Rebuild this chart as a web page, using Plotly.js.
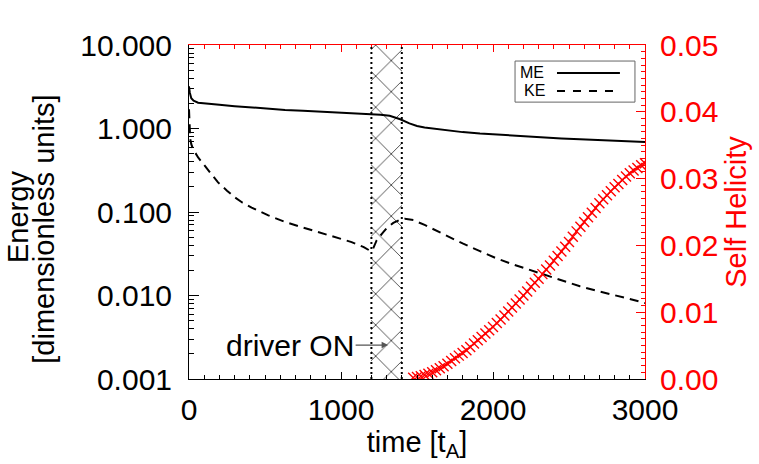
<!DOCTYPE html>
<html>
<head>
<meta charset="utf-8">
<script src="https://cdn.plot.ly/plotly-3.0.1.min.js"></script>
<style>
  body { margin: 0; background: #fff; }
  #plot { width: 759px; height: 464px; }
</style>
</head>
<body>
<div id="plot"></div>
<script>
// time axis [t_A]
var meTime = [0, 5, 15, 30, 60, 120, 200, 300, 400, 500, 632, 750, 851, 950, 1070, 1200, 1260, 1320, 1390, 1450, 1476, 1500, 1550, 1600, 1700, 1800, 1914, 2000, 2132, 2250, 2353, 2450, 2572, 2700, 2790, 2900, 3000];
var meValues = [3.2, 2.7, 2.3, 2.15, 2.04, 1.98, 1.92, 1.85, 1.79, 1.73, 1.67, 1.63, 1.60, 1.56, 1.53, 1.49, 1.46, 1.42, 1.29, 1.15, 1.11, 1.07, 1.03, 1.00, 0.945, 0.905, 0.87, 0.85, 0.82, 0.80, 0.78, 0.76, 0.745, 0.725, 0.71, 0.70, 0.69];

var keTime = [0, 3, 8, 15, 26, 60, 105, 150, 191, 250, 303, 350, 412, 522, 632, 740, 851, 960, 1070, 1150, 1195, 1210, 1235, 1270, 1300, 1344, 1388, 1420, 1476, 1550, 1695, 1800, 1914, 2020, 2133, 2250, 2353, 2460, 2572, 2680, 2792, 2900, 3000];
var keValues = [1.7, 1.0, 0.75, 0.65, 0.57, 0.45, 0.358, 0.28, 0.226, 0.18, 0.149, 0.13, 0.113, 0.091, 0.076, 0.066, 0.0575, 0.050, 0.0436, 0.038, 0.034, 0.036, 0.046, 0.055, 0.064, 0.074, 0.081, 0.083, 0.080, 0.070, 0.0515, 0.042, 0.034, 0.028, 0.0235, 0.020, 0.0177, 0.015, 0.0129, 0.0114, 0.0102, 0.0091, 0.0081];

var helTime = [1475, 1500, 1525, 1550, 1575, 1600, 1625, 1650, 1675, 1700, 1725, 1750, 1775, 1800, 1825, 1850, 1875, 1900, 1925, 1950, 1975, 2000, 2025, 2050, 2075, 2100, 2125, 2150, 2175, 2200, 2225, 2250, 2275, 2300, 2325, 2350, 2375, 2400, 2425, 2450, 2475, 2500, 2525, 2550, 2575, 2600, 2625, 2650, 2675, 2700, 2725, 2750, 2775, 2800, 2825, 2850, 2875, 2900, 2925, 2950, 2975, 3000];
var helValues = [0.0002, 0.0003, 0.0004, 0.0006, 0.0008, 0.0010, 0.0013, 0.0016, 0.0019, 0.0023, 0.0027, 0.0031, 0.0035, 0.0039, 0.0043, 0.0048, 0.0053, 0.0058, 0.0063, 0.0068, 0.0073, 0.0078, 0.0084, 0.0089, 0.0095, 0.0101, 0.0107, 0.0113, 0.0119, 0.0125, 0.0131, 0.0138, 0.0144, 0.0150, 0.0157, 0.0164, 0.0170, 0.0177, 0.0184, 0.0191, 0.0198, 0.0205, 0.0213, 0.0221, 0.0228, 0.0235, 0.0242, 0.0249, 0.0256, 0.0263, 0.0269, 0.0275, 0.0281, 0.0287, 0.0292, 0.0298, 0.0303, 0.0308, 0.0312, 0.0316, 0.0320, 0.0323];

// driver switched on between these times
var driverStart = 1200;
var driverEnd = 1400;

var FONT = 'Liberation Sans, Arial, Helvetica, sans-serif';

var hatch = {
    x: [(driverStart + driverEnd) / 2],
    y: [20],
    base: [0.001],
    width: [driverEnd - driverStart],
    type: 'bar',
    xaxis: 'x', yaxis: 'y',
    marker: {
        color: '#444',
        line: { width: 0 },
        pattern: { shape: 'x', size: 22, solidity: 0.08 }
    },
    hoverinfo: 'skip',
    showlegend: false
};

var me = {
    x: meTime, y: meValues,
    mode: 'lines', type: 'scatter', name: 'ME',
    line: { color: 'black', width: 2 },
    showlegend: false
};

var ke = {
    x: keTime, y: keValues,
    mode: 'lines', type: 'scatter', name: 'KE',
    line: { color: 'black', width: 2, dash: '9px,6px' },
    showlegend: false
};

var hel = {
    x: helTime, y: helValues,
    xaxis: 'x2', yaxis: 'y2',
    mode: 'markers', type: 'scatter', name: 'Self Helicity',
    marker: { symbol: 'x-thin-open', size: 10, color: 'red', line: { color: 'red', width: 1.4 } },
    showlegend: false
};

var layout = {
    width: 759, height: 464,
    margin: { l: 189, r: 114, t: 45, b: 85 },
    paper_bgcolor: 'white', plot_bgcolor: 'white',
    font: { family: FONT, size: 30, color: 'black' },
    showlegend: false,
    bargap: 0,
    xaxis: {
        range: [0, 3000], dtick: 1000,
        showline: true, linecolor: 'black', linewidth: 1,
        ticks: 'inside', ticklen: 7, tickcolor: 'black',
        minor: { dtick: 100, ticks: 'inside', ticklen: 4, tickcolor: 'black' },
        showgrid: false, zeroline: false,
        ticklabelstandoff: 4,
        title: { text: 'time [t<sub>A</sub>]', font: { size: 29 }, standoff: 5 }
    },
    yaxis: {
        type: 'log', range: [-3, 1], dtick: 1, tickformat: '.3f',
        showline: true, linecolor: 'black', linewidth: 1,
        ticks: 'inside', ticklen: 10, tickcolor: 'black',
        minor: { dtick: 'D1', ticks: 'inside', ticklen: 5, tickcolor: 'black' },
        showgrid: false, zeroline: false,
        ticklabelstandoff: 10
    },
    xaxis2: {
        overlaying: 'x', side: 'top', anchor: 'y',
        range: [0, 3000], dtick: 1000,
        showline: true, linecolor: 'red', linewidth: 1,
        ticks: 'inside', ticklen: 7, tickcolor: 'red',
        minor: { dtick: 100, ticks: 'inside', ticklen: 4, tickcolor: 'red' },
        showticklabels: false, showgrid: false, zeroline: false
    },
    yaxis2: {
        overlaying: 'y', side: 'right', anchor: 'x',
        range: [0, 0.05], dtick: 0.01, tickformat: '.2f',
        color: 'red',
        showline: true, linecolor: 'red', linewidth: 1,
        ticks: 'inside', ticklen: 9, tickcolor: 'red',
        minor: { dtick: 0.001, ticks: 'inside', ticklen: 4, tickcolor: 'red' },
        showgrid: false, zeroline: false,
        ticklabelstandoff: 8,
        tickfont: { color: 'red' },
        title: { text: 'Self Helicity', font: { size: 29, color: 'red' }, standoff: 8 }
    },
    shapes: [
        { type: 'line', xref: 'x', yref: 'paper', x0: driverStart, x1: driverStart, y0: 0, y1: 1,
          line: { color: 'black', width: 2, dash: '2px,3px' } },
        { type: 'line', xref: 'x', yref: 'paper', x0: driverEnd, x1: driverEnd, y0: 0, y1: 1,
          line: { color: 'black', width: 2, dash: '2px,3px' } },
        // legend box
        { type: 'rect', xref: 'paper', yref: 'paper', x0: 0.715, x1: 0.978, y0: 0.829, y1: 0.952,
          line: { color: '#666', width: 1 }, fillcolor: 'white' },
        { type: 'line', xref: 'paper', yref: 'paper', x0: 0.807, x1: 0.945, y0: 0.916, y1: 0.916,
          line: { color: 'black', width: 2 } },
        { type: 'line', xref: 'paper', yref: 'paper', x0: 0.807, x1: 0.945, y0: 0.862, y1: 0.862,
          line: { color: 'black', width: 2, dash: '8px,8px' } }
    ],
    annotations: [
        // left axis title, two lines
        { xref: 'paper', yref: 'paper', x: -0.375, y: 0.485, text: 'Energy', textangle: -90,
          showarrow: false, xanchor: 'center', yanchor: 'middle', font: { size: 29 } },
        { xref: 'paper', yref: 'paper', x: -0.318, y: 0.45, text: '[dimensionless units]', textangle: -90,
          showarrow: false, xanchor: 'center', yanchor: 'middle', font: { size: 29 } },
        // legend labels
        { xref: 'paper', yref: 'paper', x: 0.752, y: 0.919, text: 'ME', showarrow: false,
          xanchor: 'center', yanchor: 'middle', font: { size: 16 } },
        { xref: 'paper', yref: 'paper', x: 0.757, y: 0.865, text: 'KE', showarrow: false,
          xanchor: 'center', yanchor: 'middle', font: { size: 16 } },
        { xref: 'x', yref: 'y', x: 1310, y: Math.log10(0.00255), text: 'driver ON',
          showarrow: true, ax: -98, ay: 0, arrowhead: 2, arrowsize: 1, arrowwidth: 1.3,
          arrowcolor: '#555', standoff: 0, font: { size: 30 } }
    ]
};

Plotly.newPlot('plot', [hatch, me, ke, hel], layout, { displayModeBar: false, staticPlot: true });
</script>
</body>
</html>
